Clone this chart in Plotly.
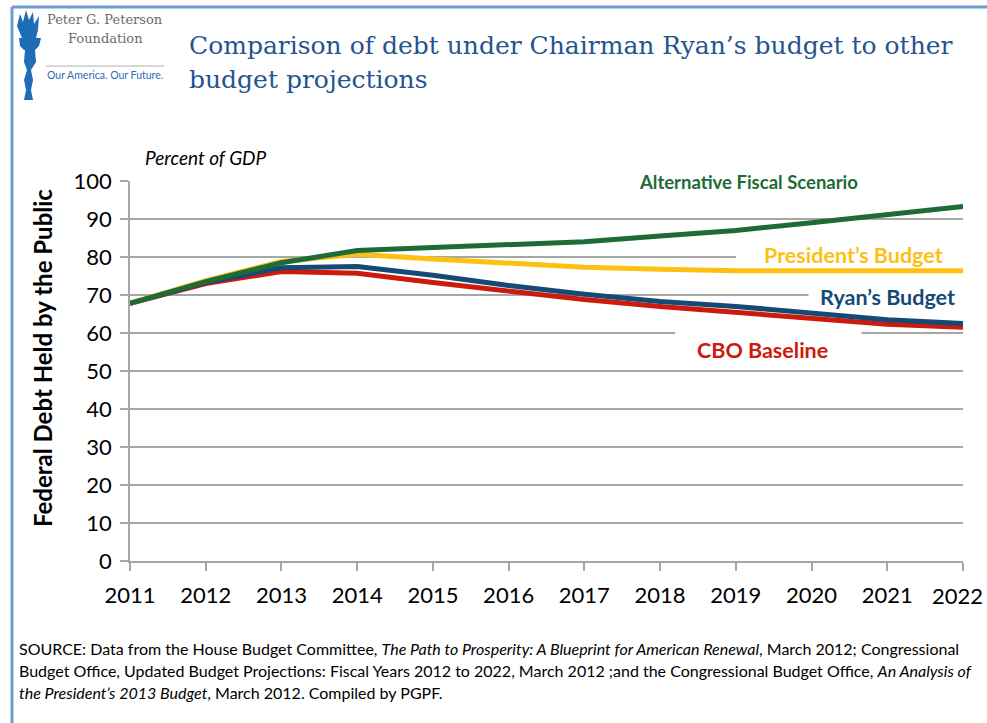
import plotly.graph_objects as go

W, H = 987, 723
L, R, T, B = 130, 24, 181, 162

years = list(range(2011, 2023))
alt_fiscal = [67.8, 73.5, 78.5, 81.7, 82.5, 83.2, 84.0, 85.5, 87.0, 89.0, 91.0, 93.3]
presidents = [67.8, 73.8, 78.8, 80.7, 79.5, 78.5, 77.3, 76.8, 76.4, 76.4, 76.4, 76.4]
ryans = [67.8, 73.3, 77.2, 77.5, 75.2, 72.5, 70.2, 68.3, 67.0, 65.2, 63.5, 62.5]
cbo = [67.8, 73.0, 76.2, 75.7, 73.3, 71.0, 68.8, 67.0, 65.5, 63.8, 62.3, 61.5]
year_labels = [str(y) for y in years]

GREEN = "#1d6b37"
YELLOW = "#fdbf12"
NAVY = "#154a77"
RED = "#cc1a0c"
GRID = "#a6a6a6"

def px(x):
    return (x - L) / (W - L - R)

def py(y):
    return 1 - (y - T) / (H - T - B)

fig = go.Figure()
for name, vals, col in [("CBO Baseline", cbo, RED), ("Ryan's Budget", ryans, NAVY),
                        ("President's Budget", presidents, YELLOW),
                        ("Alternative Fiscal Scenario", alt_fiscal, GREEN)]:
    fig.add_trace(go.Scatter(x=years, y=vals, mode="lines", name=name,
                             line=dict(color=col, width=5), showlegend=False,
                             hoverinfo="skip"))

shapes = []
for x0, x1, y0, y1 in [(2017.59, 2020.88, 98, 102), (2019.0, 2022.3, 78, 82),
                       (2019.96, 2022.3, 68, 72), (2018.2, 2020.66, 58, 62)]:
    shapes.append(dict(type="rect", xref="x", yref="y", x0=x0, x1=x1, y0=y0, y1=y1,
                       fillcolor="white", line=dict(width=0), layer="between"))
shapes.append(dict(type="line", xref="paper", yref="paper", x0=px(12), x1=px(987),
                   y0=py(7), y1=py(7), line=dict(color="#6f9bd1", width=3)))
shapes.append(dict(type="line", xref="paper", yref="paper", x0=px(12), x1=px(12),
                   y0=py(7), y1=py(723), line=dict(color="#6f9bd1", width=3)))
shapes.append(dict(type="line", xref="paper", yref="paper", x0=px(46), x1=px(164),
                   y0=py(66), y1=py(66), line=dict(color="#b0b0b0", width=1)))

def path(pts):
    return "M " + " L ".join(f"{px(a)},{py(b)}" for a, b in pts) + " Z"

torch_col = "#1f6db5"
flame = [(22, 38), (17, 26), (20, 14), (23, 22), (26, 10), (29, 20), (33, 12), (34, 24),
         (39, 16), (38, 30), (36, 38)]
cup = [(19, 38), (41, 38), (39, 46), (35, 50), (24, 50), (20, 46)]
handle = [(25, 50), (35, 50), (36, 62), (31, 70), (33, 80), (31, 90), (33, 100),
          (24, 100), (26, 90), (24, 80), (27, 70), (24, 62)]
for p in (flame, cup, handle):
    shapes.append(dict(type="path", xref="paper", yref="paper", path=path(p),
                       fillcolor=torch_col, line=dict(width=0)))

annotations = []
def ann(text, x, y, size, color="black", family="Lato", xanchor="left", yanchor="middle", **kw):
    d = dict(text=text, x=px(x), y=py(y), xref="paper", yref="paper",
             showarrow=False, xanchor=xanchor, yanchor=yanchor,
             font=dict(size=size, color=color, family=family))
    d.update(kw)
    annotations.append(d)

ann("Peter G. Peterson", 105, 19, 13, "#6b6b6b", "DejaVu Serif", xanchor="center")
ann("Foundation", 105, 38, 13, "#6b6b6b", "DejaVu Serif", xanchor="center")
ann("Our America. Our Future.", 105, 75, 10.5, "#2c6bb5", "Lato", xanchor="center")

ann("Comparison of debt under Chairman Ryan\u2019s budget to other", 187, 45, 25,
    "#25548f", "DejaVu Serif")
ann("budget projections", 187, 79, 25, "#25548f", "DejaVu Serif")

ann("<i>Percent of GDP</i>", 143, 157, 19, "black", "Lato")

ann("<b>Alternative Fiscal Scenario</b>", 748, 182, 18.5, GREEN, "Lato", xanchor="center")
ann("<b>President\u2019s Budget</b>", 853, 255, 21.5, YELLOW, "Lato", xanchor="center")
ann("<b>Ryan\u2019s Budget</b>", 887, 297, 21.5, NAVY, "Lato", xanchor="center")
ann("<b>CBO Baseline</b>", 762, 350, 21.5, RED, "Lato", xanchor="center")

ann("<b>Federal Debt Held by the Public</b>", 42, 358, 24, "black", "Lato",
    xanchor="center", textangle=-90)

# last year label drawn as annotation so it stays inside the page
ann(year_labels[-1], 985, 595, 22, "black", "Lato", xanchor="right")

src = [
    "SOURCE: Data from the House Budget Committee, <i>The Path to Prosperity: A Blueprint for American Renewal</i>, March 2012; Congressional",
    "Budget Office, Updated Budget Projections: Fiscal Years 2012 to 2022, March 2012 ;and the Congressional Budget Office, <i>An Analysis of</i>",
    "<i>the President\u2019s 2013 Budget</i>, March 2012. Compiled by PGPF.",
]
for i, s in enumerate(src):
    ann(s, 17, 648 + 22 * i, 16, "black", "Lato")

fig.update_layout(
    width=W, height=H, autosize=False, margin=dict(l=L, r=R, t=T, b=B),
    paper_bgcolor="white", plot_bgcolor="white",
    shapes=shapes, annotations=annotations,
    xaxis=dict(range=[2011, 2022], tickvals=years, ticktext=year_labels[:-1] + [""],
               showgrid=False, showline=True, linecolor=GRID, linewidth=1.5,
               ticks="outside", ticklen=8, tickcolor=GRID, tickwidth=1.5,
               ticklabelstandoff=6,
               tickfont=dict(size=22, family="Lato", color="black"), zeroline=False,
               fixedrange=True),
    yaxis=dict(range=[0, 100], tickvals=list(range(0, 101, 10)),
               showgrid=True, gridcolor=GRID, gridwidth=1.5,
               showline=True, linecolor=GRID, linewidth=1.5,
               ticks="outside", ticklen=8, tickcolor=GRID, tickwidth=1.5,
               ticklabelstandoff=4,
               tickfont=dict(size=22, family="Lato", color="black"), zeroline=False,
               fixedrange=True),
)

fig.write_html("out.html", config={"responsive": False})
